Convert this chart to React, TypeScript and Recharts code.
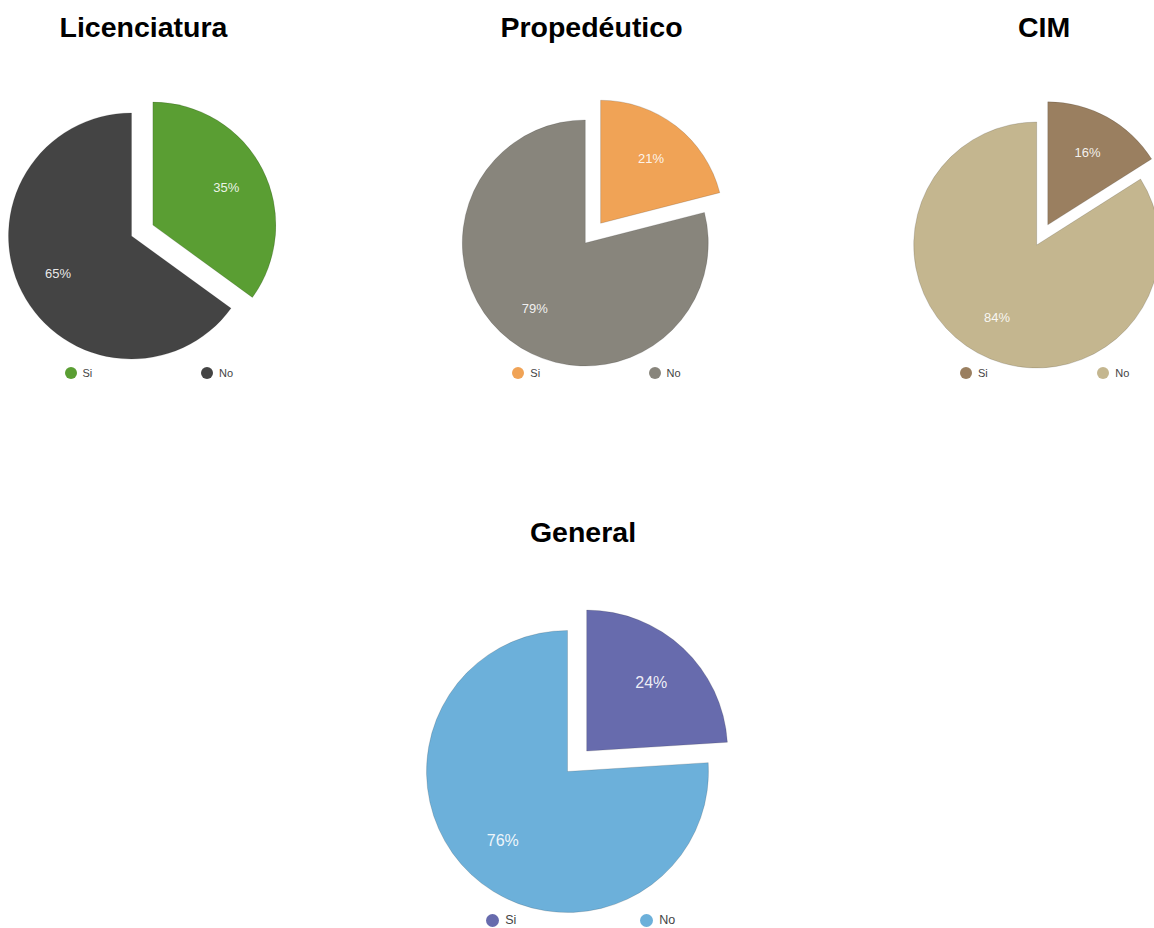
import { PieChart, Pie, Cell } from "recharts";

const categories = ["Si", "No"];

const titles = ["Licenciatura", "Propedéutico", "CIM", "General"];

// percentages read from the slice labels (Si, No)
const licenciaturaValues = [35, 65];
const propedeuticoValues = [21, 79];
const cimValues = [16, 84];
const generalValues = [24, 76];

const licenciaturaColors = ["#5a9e33", "#444444"];
const propedeuticoColors = ["#f0a356", "#88857c"];
const cimColors = ["#9a7f60", "#c4b68f"];
const generalColors = ["#676bad", "#6cb0da"];

const FONT = '"Liberation Sans", Arial, Helvetica, sans-serif';
const RADIAN = Math.PI / 180;

interface PanelProps {
  title: string;
  values: number[];
  colors: string[];
  cx: number;
  cy: number;
  r: number;
  explode: number;
  titleX: number;
  titleBaseline: number;
  legendY: number;
  legendX: number[];
  dot: number;
  legendFont: number;
  labelFont: number;
}

const makeLabel = (show: number, fontSize: number) => (props: any) => {
  if (props.index !== show) return null;
  const radius = props.outerRadius * 0.67;
  const x = props.cx + radius * Math.cos(-props.midAngle * RADIAN);
  const y = props.cy + radius * Math.sin(-props.midAngle * RADIAN);
  return (
    <text
      x={x}
      y={y}
      fill="rgba(255,255,255,0.9)"
      textAnchor="middle"
      dominantBaseline="central"
      fontSize={fontSize}
      fontFamily={FONT}
    >
      {`${Math.round(props.percent * 100)}%`}
    </text>
  );
};

function ExplodedPie(p: PanelProps) {
  const data = categories.map((name, i) => ({ name, value: p.values[i] }));
  const total = p.values.reduce((s, v) => s + v, 0);
  // the "Si" slice is pulled out along its middle angle
  const mid = 90 - (180 * p.values[0]) / total;
  const dx = p.explode * Math.cos(mid * RADIAN);
  const dy = -p.explode * Math.sin(mid * RADIAN);
  const titleSize = 28.5;

  return (
    <>
      <div
        style={{
          position: "absolute",
          left: p.titleX,
          top: p.titleBaseline - titleSize * 0.85,
          transform: "translateX(-50%)",
          fontFamily: FONT,
          fontWeight: 700,
          fontSize: titleSize,
          lineHeight: `${titleSize}px`,
          whiteSpace: "nowrap",
          color: "#000",
        }}
      >
        {p.title}
      </div>
      <div style={{ position: "absolute", left: 0, top: 0 }}>
        <PieChart width={1154} height={928} margin={{ top: 0, right: 0, bottom: 0, left: 0 }}>
          <Pie
            data={data}
            dataKey="value"
            nameKey="name"
            cx={p.cx}
            cy={p.cy}
            innerRadius={0}
            outerRadius={p.r}
            startAngle={90}
            endAngle={-270}
            labelLine={false}
            label={makeLabel(1, p.labelFont)}
            isAnimationActive={false}
          >
            {data.map((d, i) => (
              <Cell
                key={d.name}
                fill={i === 1 ? p.colors[1] : "none"}
                stroke={i === 1 ? "rgba(0,0,0,0.18)" : "none"}
                strokeWidth={0.8}
              />
            ))}
          </Pie>
          <Pie
            data={data}
            dataKey="value"
            nameKey="name"
            cx={p.cx + dx}
            cy={p.cy + dy}
            innerRadius={0}
            outerRadius={p.r}
            startAngle={90}
            endAngle={-270}
            labelLine={false}
            label={makeLabel(0, p.labelFont)}
            isAnimationActive={false}
          >
            {data.map((d, i) => (
              <Cell
                key={d.name}
                fill={i === 0 ? p.colors[0] : "none"}
                stroke={i === 0 ? "rgba(0,0,0,0.18)" : "none"}
                strokeWidth={0.8}
              />
            ))}
          </Pie>
        </PieChart>
      </div>
      {categories.map((name, i) => (
        <div
          key={name}
          style={{
            position: "absolute",
            left: p.legendX[i] - p.dot / 2,
            top: p.legendY - p.dot / 2,
            height: p.dot,
            display: "flex",
            alignItems: "center",
            gap: 6,
            fontFamily: FONT,
            fontSize: p.legendFont,
            color: "#444",
            whiteSpace: "nowrap",
          }}
        >
          <span
            style={{
              width: p.dot,
              height: p.dot,
              borderRadius: "50%",
              background: p.colors[i],
              display: "inline-block",
            }}
          />
          <span>{name}</span>
        </div>
      ))}
    </>
  );
}

export default function App() {
  return (
    <div
      style={{
        position: "absolute",
        left: 0,
        top: 0,
        width: 1154,
        height: 928,
        overflow: "hidden",
        background: "#fff",
      }}
    >
      <ExplodedPie
        title={titles[0]}
        values={licenciaturaValues}
        colors={licenciaturaColors}
        cx={131.5}
        cy={236}
        r={123}
        explode={24}
        titleX={143.5}
        titleBaseline={37.5}
        legendY={373}
        legendX={[70.5, 207]}
        dot={12}
        legendFont={11}
        labelFont={13}
      />
      <ExplodedPie
        title={titles[1]}
        values={propedeuticoValues}
        colors={propedeuticoColors}
        cx={585.3}
        cy={243}
        r={123}
        explode={25}
        titleX={591.5}
        titleBaseline={37.5}
        legendY={373}
        legendX={[518.3, 654.5]}
        dot={12}
        legendFont={11}
        labelFont={13}
      />
      <ExplodedPie
        title={titles[2]}
        values={cimValues}
        colors={cimColors}
        cx={1036.7}
        cy={245}
        r={123}
        explode={23}
        titleX={1044}
        titleBaseline={37.5}
        legendY={373}
        legendX={[966, 1103.3]}
        dot={12}
        legendFont={11}
        labelFont={13}
      />
      <ExplodedPie
        title={titles[3]}
        values={generalValues}
        colors={generalColors}
        cx={567.5}
        cy={771.5}
        r={141}
        explode={28}
        titleX={583}
        titleBaseline={542}
        legendY={920}
        legendX={[492.7, 646.7]}
        dot={13}
        legendFont={12.5}
        labelFont={16}
      />
    </div>
  );
}
